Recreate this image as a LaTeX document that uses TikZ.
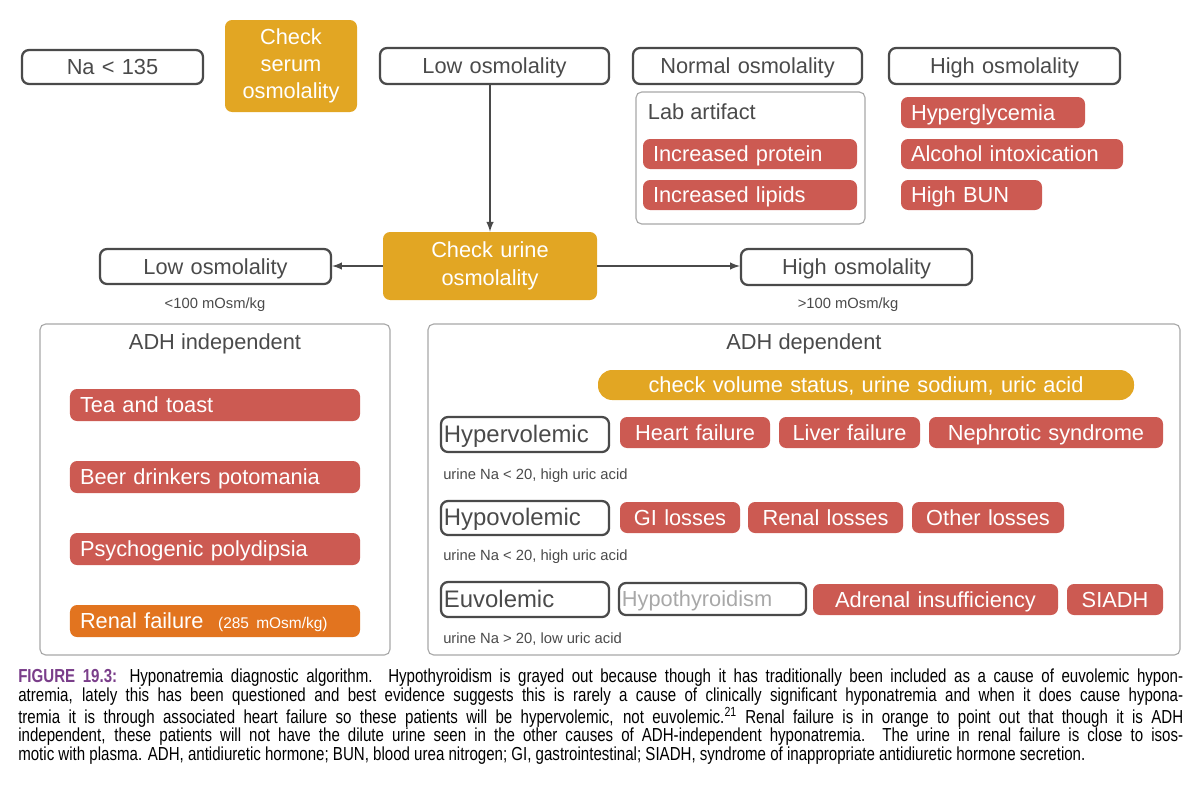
\documentclass[tikz,border=0pt]{standalone}
\usepackage{fontspec}
\setmainfont{Liberation Sans}
\newfontfamily\capfont[FakeStretch=0.8, BoldFont={Liberation Sans Bold}, BoldFeatures={FakeStretch=0.8}]{Liberation Sans}
\definecolor{rd}{HTML}{CC5A52}
\definecolor{gd}{HTML}{E2A623}
\definecolor{og}{HTML}{E2741F}
\definecolor{dg}{HTML}{4A4A4A}
\definecolor{lg}{HTML}{A8A8A8}
\definecolor{pu}{HTML}{7A3E8A}
\newcommand{\bx}[8]{\node[#6, text width={(#4-#2-20)*0.025cm}, align=#7, minimum height={(#5-#3)*0.025cm}] (#1) at ({(#2+#4)/2},{(#3+#5)/2}) {#8};}
\begin{document}
\begin{tikzpicture}[x=0.025cm,y=-0.025cm,
  base/.style={rounded corners=5pt, inner xsep=0.25cm, inner ysep=0pt, text height=13.2pt, text depth=2pt, font=\fontsize{15.5}{17}\selectfont},
  ob/.style={base, draw=dg, line width=1.6pt, text=dg},
  rb/.style={base, fill=rd, text=white},
  gb/.style={base, fill=gd, text=white},
  ob2/.style={base, fill=og, text=white},
  multi/.style={text height=, text depth=},
  frame/.style={draw=lg, line width=0.8pt, rounded corners=4pt},
  small/.style={font=\fontsize{10.5}{12}\selectfont, text=dg, inner sep=0pt},
  arr/.style={-latex, line width=1.4pt, draw=dg}]
\useasboundingbox (0,0) rectangle (1200,803);
% top row
\bx{na}{22}{50}{203}{84}{ob}{center}{Na < 135}
\node[gb, multi, align=center, text width={112*0.025cm}, minimum height={92*0.025cm}, font=\fontsize{15.5}{19}\selectfont] (cso) at (291,66) {Check\\serum\\osmolality};
\bx{lo}{380}{48}{609}{84}{ob}{center}{Low osmolality}
\bx{no}{633}{48}{862}{84}{ob}{center}{Normal osmolality}
\bx{ho}{889}{48}{1120}{84}{ob}{center}{High osmolality}
\draw[frame] (636,92) rectangle (865,224);
\node[font=\fontsize{15.5}{17}\selectfont, text=dg, anchor=west] (la) at (643,112) {Lab artifact};
\bx{ip}{643}{139}{857}{169}{rb}{left}{Increased protein}
\bx{il}{643}{180}{857}{210}{rb}{left}{Increased lipids}
\bx{hg}{901}{97}{1085}{128}{rb}{left}{Hyperglycemia}
\bx{ai}{901}{139}{1123}{169}{rb}{left}{Alcohol intoxication}
\bx{hb}{901}{180}{1042}{210}{rb}{left}{High BUN}
% urine
\node[gb, multi, align=center, text width={194*0.025cm}, minimum height={68*0.025cm}, font=\fontsize{15.5}{20}\selectfont] (cuo) at (490,266) {Check urine\\osmolality};
\draw[arr] (cuo.north |- lo.south) -- (cuo.north);
\bx{lo2}{100}{249}{331}{284}{ob}{center}{Low osmolality}
\bx{ho2}{741}{249}{972}{285}{ob}{center}{High osmolality}
\draw[arr] (cuo.west) -- (cuo.west -| lo2.east);
\draw[arr] (cuo.east) -- (cuo.east -| ho2.west);
\node[small] (l100) at (215,305) {<100 mOsm/kg};
\node[small] (h100) at (848,305) {>100 mOsm/kg};
% ADH independent
\draw[frame] (40,324) rectangle (390,655);
\node[font=\fontsize{15.5}{17}\selectfont, text=dg] (adhi) at (215,344) {ADH independent};
\bx{tt}{70}{389}{360}{421}{rb}{left}{Tea and toast}
\bx{bd}{70}{461}{360}{493}{rb}{left}{Beer drinkers potomania}
\bx{pp}{70}{533}{360}{565}{rb}{left}{Psychogenic polydipsia}
\bx{rf}{70}{605}{360}{637}{ob2}{left}{Renal failure \ {\fontsize{11}{12}\selectfont(285 mOsm/kg)}}
% ADH dependent
\draw[frame] (428,324) rectangle (1180,655);
\node[font=\fontsize{15.5}{17}\selectfont, text=dg] (adhd) at (804,344) {ADH dependent};
\bx{cv}{598}{370}{1134}{400}{gb, rounded corners=10pt}{center}{check volume status, urine sodium, uric acid}
\bx{hyper}{441}{417}{609}{452}{ob}{left}{\kern-5pt\fontsize{17}{18}\selectfont Hypervolemic}
\bx{hf}{620}{417}{770}{448}{rb}{center}{Heart failure}
\bx{lf}{779}{417}{920}{448}{rb}{center}{Liver failure}
\bx{ns}{929}{417}{1163}{448}{rb}{center}{Nephrotic syndrome}
\node[small, anchor=west] (t1) at (443,476) {urine Na < 20, high uric acid};
\bx{hypo}{441}{501}{609}{535}{ob}{left}{\kern-5pt\fontsize{17}{18}\selectfont Hypovolemic}
\bx{gi}{620}{502}{740}{533}{rb}{center}{GI losses}
\bx{rl}{748}{502}{903}{533}{rb}{center}{Renal losses}
\bx{ol}{912}{502}{1064}{533}{rb}{center}{Other losses}
\node[small, anchor=west] (t2) at (443,557) {urine Na < 20, high uric acid};
\bx{eu}{441}{582}{609}{617}{ob}{left}{\kern-5pt\fontsize{17}{18}\selectfont Euvolemic}
\bx{ht}{619}{583}{806}{615}{ob, text=lg}{left}{\kern-5pt Hypothyroidism}
\bx{adr}{813}{584}{1058}{615}{rb}{center}{Adrenal insufficiency}
\bx{si}{1067}{584}{1163}{615}{rb}{center}{SIADH}
\node[small, anchor=west] (t3) at (443,639) {urine Na > 20, low uric acid};
% caption
\node[anchor=north west, inner sep=0pt, text width={1165*0.025cm}, align=justify, font=\capfont\fontsize{13.4}{13.2}\selectfont, text=black] (cap) at (18,669) {{\bfseries\color{pu}FIGURE 19.3:} Hyponatremia diagnostic algorithm. Hypothyroidism is grayed out because though it has traditionally been included as a cause of euvolemic hypon-\linebreak atremia, lately this has been questioned and best evidence suggests this is rarely a cause of clinically significant hyponatremia and when it does cause hypona-\linebreak tremia it is through associated heart failure so these patients will be hypervolemic, not euvolemic.\textsuperscript{21} Renal failure is in orange to point out that though it is ADH\linebreak independent, these patients will not have the dilute urine seen in the other causes of ADH-independent hyponatremia. The urine in renal failure is close to isos-\linebreak motic with plasma. ADH, antidiuretic hormone; BUN, blood urea nitrogen; GI, gastrointestinal; SIADH, syndrome of inappropriate antidiuretic hormone secretion.};
\end{tikzpicture}
\end{document}
